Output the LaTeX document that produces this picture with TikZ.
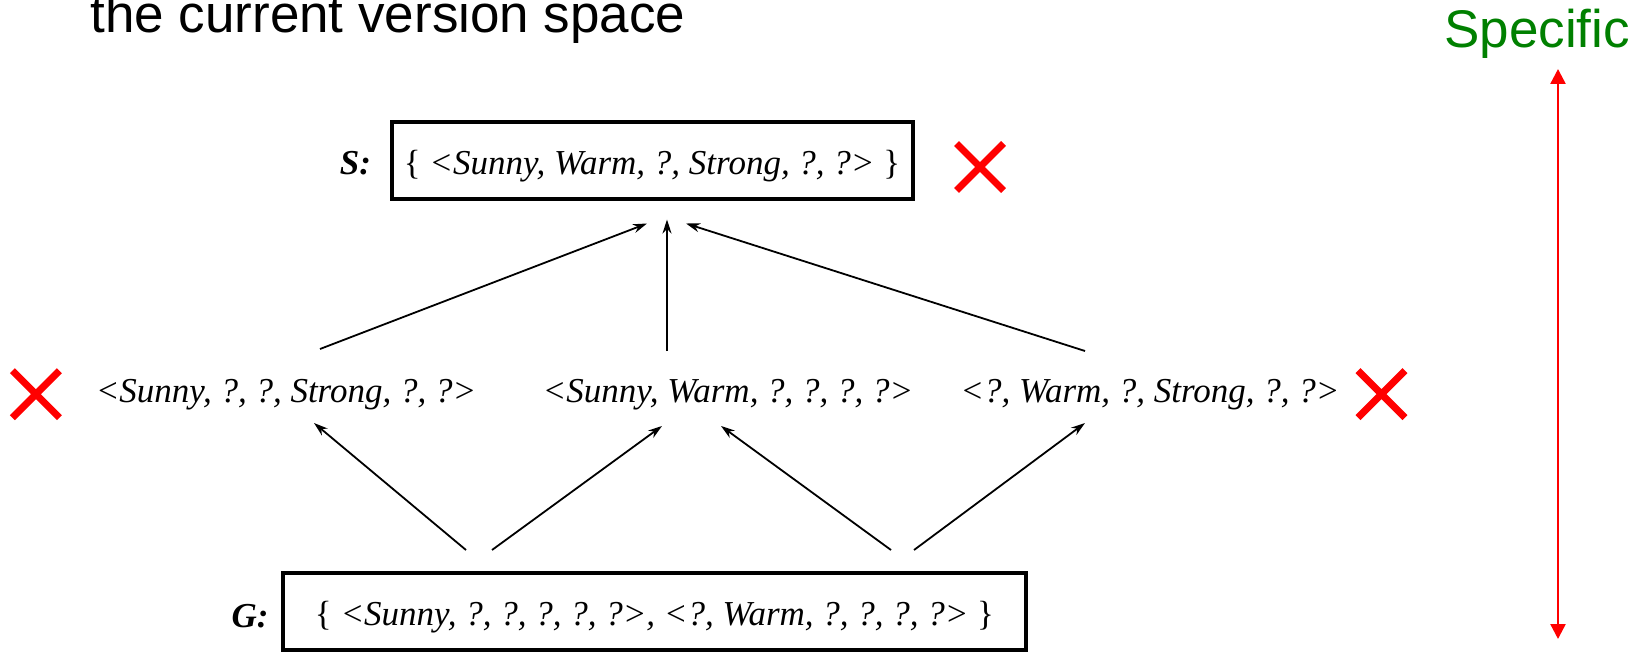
\documentclass[tikz,border=0pt]{standalone}
\usepackage{fontspec}
\setmainfont{Liberation Serif}
\newfontfamily\arialfont{Liberation Sans}
\usetikzlibrary{calc,arrows.meta,shapes.misc,positioning}
\definecolor{specgreen}{RGB}{0,128,0}

\begin{document}
\begin{tikzpicture}[
    x=0.5pt, y=-0.5pt,
    every node/.style={font=\fontsize{17.5pt}{20pt}\selectfont\itshape, inner sep=0pt},
    setbox/.style={rectangle, draw, line width=2pt, minimum height=38.5pt, text height=16pt, text depth=2pt},
    setlabel/.style={anchor=base east, font=\fontsize{17.5pt}{20pt}\selectfont\bfseries\itshape},
    hyp/.style={anchor=base},
    xmark/.style={cross out, draw=red, line width=3.5pt, minimum size=20pt},
    heading/.style={anchor=base west, font=\fontsize{26.5pt}{30pt}\selectfont\arialfont},
    arrow/.style={-{Stealth[length=7pt,width=4.5pt]}, line width=0.9pt},
    spanarrow/.style={{Triangle[length=7.5pt,width=7.5pt]}-{Triangle[length=7.5pt,width=7.5pt]}, red, line width=1.2pt},
]
\useasboundingbox (0,0) rectangle (1643,652);

% Headings
\node[heading] (title) at (90,33) {the current version space};
\node[heading, text=specgreen] (spec) at (1444,48) {Specific};

% S boundary
\node[setbox, minimum width=260.5pt] (sbox) at (652,161) {\textup{\{} <Sunny, Warm, ?, Strong, ?, ?> \textup{\}}};
\node[setlabel] (slabel) at ($(sbox.west)+(-18,14)$) {S:};
\node[xmark, right=21pt of sbox, yshift=-3pt] (xs) {};

% Middle hypotheses
\node[hyp] (hleft) at (286,402) {<Sunny, ?, ?, Strong, ?, ?>};
\node[hyp] (hmid) at (728,402) {<Sunny, Warm, ?, ?, ?, ?>};
\node[hyp] (hright) at (1150,402) {<?, Warm, ?, Strong, ?, ?>};
\node[xmark, left=18pt of hleft] (xleft) {};
\node[xmark, right=9pt of hright] (xright) {};

% G boundary
\node[setbox, minimum width=371.5pt] (gbox) at (654.5,611.5) {\textup{\{} <Sunny, ?, ?, ?, ?, ?>, <?, Warm, ?, ?, ?, ?> \textup{\}}};
\node[setlabel] (glabel) at ($(gbox.west)+(-12,15.5)$) {G:};

% Arrows to S
\draw[arrow] ($(hleft.base)+(34,-53)$) -- ($(sbox.south)+(-5,22)$);
\draw[arrow] ($(hmid.base)+(-61,-51)$) -- ($(sbox.south)+(15,18)$);
\draw[arrow] ($(hright.base)+(-65,-51)$) -- ($(sbox.south)+(34,22)$);

% Arrows from G
\draw[arrow] ($(gbox.north)+(-188.5,-21)$) -- ($(hleft.base)+(28,21)$);
\draw[arrow] ($(gbox.north)+(-162.5,-21)$) -- ($(hmid.base)+(-66,24)$);
\draw[arrow] ($(gbox.north)+(236.5,-21)$) -- ($(hmid.base)+(-7,24)$);
\draw[arrow] ($(gbox.north)+(259.5,-21)$) -- ($(hright.base)+(-65,21)$);

% Specific -- general range
\coordinate (rtop) at (1558,69);
\coordinate (rbot) at (1558,639);
\draw[spanarrow] (rbot) -- (rtop);

\end{tikzpicture}
\end{document}
